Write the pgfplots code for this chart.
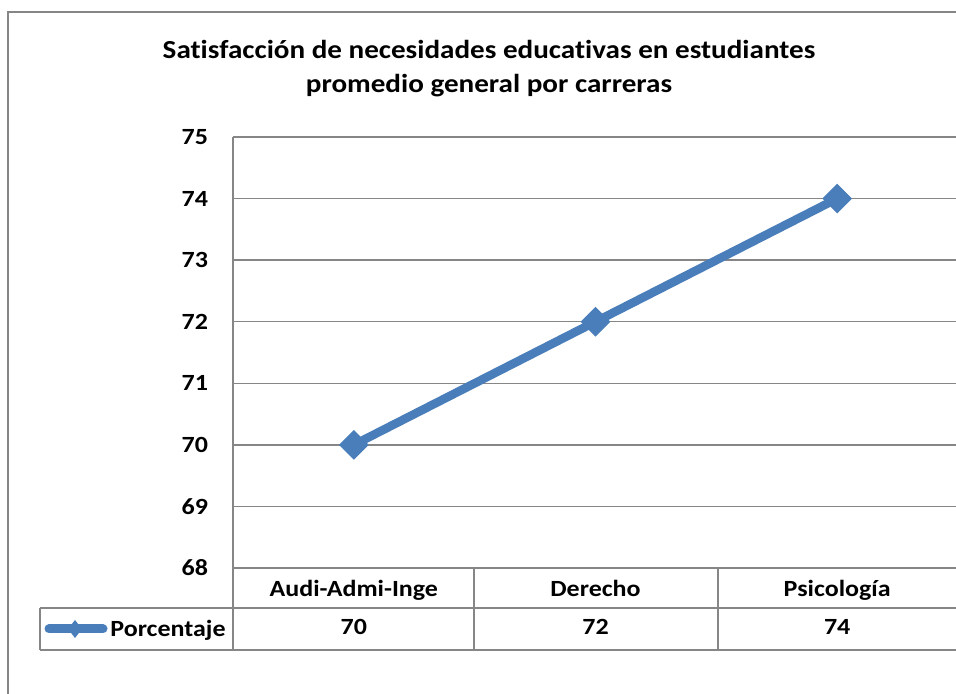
\documentclass[border=0pt]{standalone}
\usepackage{fontspec}
\setmainfont{Carlito}[FakeStretch=1.12, Ligatures=NoCommon]
\usepackage{pgfplots}
\pgfplotsset{compat=1.18}
\definecolor{xlblue}{RGB}{74,126,187}
\definecolor{gridgray}{RGB}{134,134,134}
\begin{document}
\begin{tikzpicture}[x=0.5pt,y=0.5pt]
\useasboundingbox (0,0) rectangle (956,694);
\clip (0,0) rectangle (956,694);
% chart frame (runs off the page right and bottom)
\draw[gridgray, line width=1pt] (8,-10) -- (8,682) -- (970,682);
% title
\node[anchor=base, font=\fontsize{13}{15}\selectfont\bfseries] at (489,635)
  {Satisfacción de necesidades educativas en estudiantes};
\node[anchor=base, font=\fontsize{13}{15}\selectfont\bfseries] at (489,601)
  {promedio general por carreras};
\begin{axis}[
  at={(116.5pt,63pt)}, anchor=south west,
  scale only axis, width=362.5pt, height=215.5pt,
  xmin=-0.5, xmax=2.5, ymin=68, ymax=75,
  xtick={0,1,2}, xticklabels={Audi-Admi-Inge,Derecho,Psicología},
  ytick={68,69,...,75},
  axis x line*=bottom, axis y line*=left,
  axis line style={-, draw=gridgray, line width=0.75pt},
  ymajorgrids, grid style={gridgray, line width=0.75pt},
  major tick length=0pt,
  tick label style={font=\fontsize{11.6}{14}\selectfont\bfseries},
  /pgf/number format/assume math mode=true,
  yticklabel style={anchor=east, xshift=-9pt},
  xticklabel style={anchor=base, yshift=-14.5pt},
  clip=false,
]
  % Porcentaje
  \addplot[xlblue, line width=4.3pt, mark=square*, mark size=5pt,
    mark options={rotate=45, line width=0.5pt}]
    coordinates {(0,70) (1,72) (2,74)};
  % data table row
  \addplot[draw=none, nodes near coords, point meta=explicit symbolic,
    every node near coord/.append style={anchor=base, inner sep=0pt,
      font=\fontsize{11.6}{14}\selectfont\bfseries}]
    coordinates {(0,66.92) [70] (1,66.92) [72] (2,66.92) [74]};
\end{axis}
% data table grid
\draw[gridgray, line width=0.75pt]
  (40,86) -- (970,86)
  (40,44) -- (970,44)
  (40,86) -- (40,44)
  (233,126) -- (233,44)
  (474,126) -- (474,44)
  (718,126) -- (718,44);
% legend key
\draw[xlblue, line width=4.5pt, line cap=round] (49,65) -- (103,65);
\fill[xlblue] (75,74) -- (82,65) -- (75,56) -- (68,65) -- cycle;
\node[anchor=base east, inner sep=0pt, font=\fontsize{11.6}{14}\selectfont\bfseries]
  at (226,57) {Porcentaje};
\end{tikzpicture}
\end{document}
